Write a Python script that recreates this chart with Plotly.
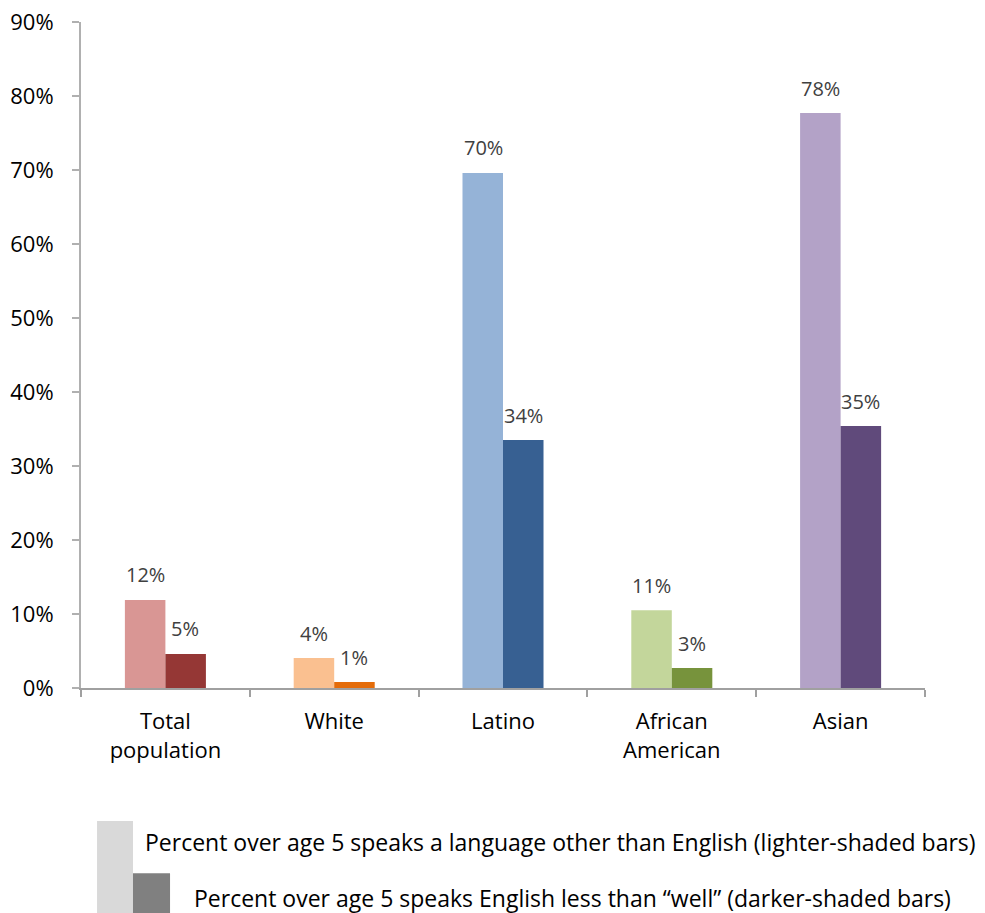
import plotly.graph_objects as go

groups = ["Total<br>population", "White", "Latino", "African<br>American", "Asian"]
other_language = [11.9, 4.05, 69.6, 10.5, 77.7]
less_than_well = [4.6, 0.8, 33.5, 2.7, 35.4]
other_labels = ["12%", "4%", "70%", "11%", "78%"]
well_labels = ["5%", "1%", "34%", "3%", "35%"]
light_colors = ["#D99694", "#FAC090", "#95B3D7", "#C3D69B", "#B3A2C7"]
dark_colors = ["#953735", "#E46C0A", "#376092", "#77933C", "#604A7B"]

font = "Open Sans"

fig = go.Figure()
fig.add_trace(go.Bar(x=groups, y=other_language, marker_color=light_colors,
                     marker_line_width=0, showlegend=False))
fig.add_trace(go.Bar(x=groups, y=less_than_well, marker_color=dark_colors,
                     marker_line_width=0, showlegend=False))

# value labels sit a little above each bar
for g, v, t in zip(groups, other_language, other_labels):
    fig.add_annotation(x=g, y=v, text=t, showarrow=False, xshift=-20, yshift=25,
                       font=dict(size=20, color="#404040", family=font))
for g, v, t in zip(groups, less_than_well, well_labels):
    fig.add_annotation(x=g, y=v, text=t, showarrow=False, xshift=20, yshift=25,
                       font=dict(size=20, color="#404040", family=font))

# hand-made legend under the chart
fig.add_shape(type="rect", xref="paper", yref="paper", x0=0.019, x1=0.0616,
              y0=-0.338, y1=-0.1997, fillcolor="#D9D9D9", line_width=0)
fig.add_shape(type="rect", xref="paper", yref="paper", x0=0.0616, x1=0.1055,
              y0=-0.338, y1=-0.278, fillcolor="#808080", line_width=0)
fig.add_annotation(xref="paper", yref="paper", x=0.0735, y=-0.231, xanchor="left",
                   yanchor="middle", showarrow=False,
                   text="Percent over age 5 speaks a language other than English (lighter-shaded bars)",
                   font=dict(size=23, color="black", family=font))
fig.add_annotation(xref="paper", yref="paper", x=0.1315, y=-0.315, xanchor="left",
                   yanchor="middle", showarrow=False,
                   text="Percent over age 5 speaks English less than \u201cwell\u201d (darker-shaded bars)",
                   font=dict(size=23, color="black", family=font))

# page body has an 8px margin, so the figure is made 8px smaller
fig.update_layout(
    width=977, height=905,
    margin=dict(l=73, r=60, t=14, b=225),
    plot_bgcolor="white", paper_bgcolor="white",
    barmode="group", bargap=0.52, bargroupgap=0,
    font=dict(family=font, size=22, color="black"),
)
fig.update_xaxes(showline=True, linecolor="#A0A0A0", linewidth=2, ticks="outside",
                 tickson="boundaries", ticklen=7, tickcolor="#A0A0A0", tickwidth=2,
                 tickfont=dict(size=22, color="black"), showgrid=False,
                 automargin=False, ticklabelstandoff=13)
fig.update_yaxes(range=[0, 90], dtick=10, ticksuffix="%", showline=True,
                 linecolor="#B0B0B0", linewidth=2, ticks="outside", ticklen=7,
                 tickcolor="#B0B0B0", tickwidth=2, showgrid=False, zeroline=False,
                 tickfont=dict(size=22, color="black"), automargin=False,
                 ticklabelstandoff=14, ticklabeloverflow="allow")

fig.write_html("out.html")
